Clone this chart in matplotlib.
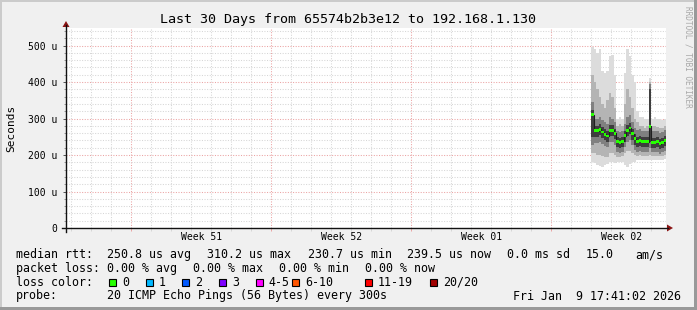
import numpy as np
import matplotlib
matplotlib.use("Agg")
import matplotlib.pyplot as plt
import matplotlib.dates as mdates
import matplotlib.transforms as mtransforms
from matplotlib.patches import Rectangle, Polygon
from matplotlib.lines import Line2D
from datetime import datetime, timedelta

W, H = 697, 310
MONO = ["DejaVu Sans Mono"]

# ---------------- data ----------------
title = "Last 30 Days from 65574b2b3e12 to 192.168.1.130"
window_end = datetime(2026, 1, 9, 17, 41, 2)
window_days = 30
data_start = datetime(2026, 1, 6, 0, 0)
step_hours = 3

median_us = [310, 266, 266, 270, 263, 257, 252, 268, 268, 259,
             236, 234, 238, 253, 268, 274, 258, 244, 238, 241,
             236, 236, 237, 279, 235, 235, 236, 231, 235, 239.5]
smoke_max = [495, 490, 480, 490, 430, 425, 430, 470, 475, 420,
             300, 305, 300, 425, 490, 470, 420, 400, 320, 305,
             305, 300, 300, 410, 300, 305, 300, 300, 295, 300]
smoke_p90 = [420, 400, 380, 360, 340, 330, 350, 370, 360, 330,
             280, 285, 280, 340, 380, 360, 330, 300, 290, 280,
             280, 275, 280, 400, 280, 280, 278, 275, 275, 280]
smoke_p75 = [345, 300, 300, 305, 295, 290, 285, 305, 300, 290,
             265, 262, 265, 285, 305, 310, 290, 275, 268, 270,
             265, 265, 265, 395, 265, 265, 265, 260, 262, 268]
smoke_p60 = [322, 280, 280, 284, 277, 270, 266, 282, 282, 272,
             248, 246, 250, 266, 282, 288, 272, 257, 250, 253,
             248, 248, 249, 380, 247, 247, 248, 243, 247, 251]
smoke_p40 = [250, 250, 250, 254, 247, 241, 236, 252, 252, 243,
             221, 219, 223, 237, 252, 258, 242, 228, 223, 226,
             221, 221, 222, 236, 220, 220, 221, 216, 220, 224]
smoke_p25 = [228, 232, 232, 236, 230, 225, 222, 236, 236, 228,
             208, 206, 209, 222, 236, 240, 228, 214, 209, 212,
             208, 208, 209, 220, 207, 207, 208, 204, 207, 211]
smoke_p10 = [205, 205, 200, 200, 198, 195, 195, 205, 205, 200,
             195, 195, 198, 205, 210, 210, 205, 200, 198, 200,
             198, 198, 198, 200, 198, 198, 198, 196, 198, 200]
smoke_min = [180, 178, 172, 170, 168, 172, 175, 180, 180, 178,
             182, 182, 180, 172, 168, 175, 180, 182, 185, 185,
             185, 185, 185, 185, 186, 186, 185, 186, 187, 188]

y_ticks_us = [0, 100, 200, 300, 400, 500]
y_tick_labels = ["0", "100 u", "200 u", "300 u", "400 u", "500 u"]
y_max_us = 548

week_labels = ["Week 51", "Week 52", "Week 01", "Week 02"]
week_label_dates = [datetime(2025, 12, 17, 12), datetime(2025, 12, 24, 12),
                    datetime(2025, 12, 31, 12), datetime(2026, 1, 7, 12)]

rtt_line = [("median rtt:", 16), ("250.8 us avg", 107), ("310.2 us max", 207),
            ("230.7 us min", 308), ("239.5 us now", 407), ("0.0 ms sd", 507),
            ("15.0", 585.5), ("am/s", 635)]
loss_line = [("packet loss:", 16), ("0.00 % avg", 107), ("0.00 % max", 193),
             ("0.00 % min", 279), ("0.00 % now", 365)]
loss_labels = ["0", "1", "2", "3", "4-5", "6-10", "11-19", "20/20"]
loss_colors = ["#26ff00", "#00b8ff", "#0059ff", "#7e00ff",
               "#ff00ff", "#ff5500", "#ff0000", "#a10000"]
loss_box_x = [109, 145.7, 182.3, 219, 255.7, 292.3, 365, 430]
probe_text = "20 ICMP Echo Pings (56 Bytes) every 300s"
stamp_text = "Fri Jan  9 17:41:02 2026"
watermark = "RRDTOOL / TOBI OETIKER"

# ---------------- figure ----------------
def fx(x):
    return x / W

def fy(y):
    return 1 - y / H

fig = plt.figure(figsize=(W / 100, H / 100), dpi=100, facecolor="#f0f0f0")

# 3D frame
fig.add_artist(Rectangle((0, fy(2)), 1, 2 / H, transform=fig.transFigure,
                         facecolor="#cbcbcb", edgecolor="none"))
fig.add_artist(Rectangle((0, 0), 2 / W, 1, transform=fig.transFigure,
                         facecolor="#cbcbcb", edgecolor="none"))
fig.add_artist(Rectangle((0, 0), 1, 3 / H, transform=fig.transFigure,
                         facecolor="#999999", edgecolor="none"))
fig.add_artist(Rectangle((fx(W - 3), 0), 3 / W, 1, transform=fig.transFigure,
                         facecolor="#999999", edgecolor="none"))

ax = fig.add_axes([fx(66), fy(228), 600 / W, 200 / H])
ax.set_facecolor("white")
for s in ax.spines.values():
    s.set_visible(False)

t_end = mdates.date2num(window_end)
t_start = mdates.date2num(window_end - timedelta(days=window_days))
n = len(median_us)
edges = [data_start + timedelta(hours=step_hours * i) for i in range(n + 1)]
xe = mdates.date2num(edges)

def ext(a):
    a = np.asarray(a, dtype=float)
    return np.append(a, a[-1])

bands = [(smoke_min, smoke_max, "#dcdcdc"),
         (smoke_p10, smoke_p90, "#b4b4b4"),
         (smoke_p25, smoke_p75, "#808080"),
         (smoke_p40, smoke_p60, "#3e3e3e")]
for lo, hi, c in bands:
    ax.fill_between(xe, ext(lo), ext(hi), step="post", color=c, lw=0, zorder=3)

ax.step(xe, ext(median_us), where="post", color="#202020", lw=0.8, zorder=4)
half = 4.0
ax.bar(xe[:-1], [2 * half] * n, bottom=np.asarray(median_us) - half,
       width=np.diff(xe), align="edge", color=loss_colors[0], lw=0, zorder=5)

ax.set_xlim(t_start, t_end)
ax.set_ylim(0, y_max_us)

# grid
ax.xaxis.set_minor_locator(mdates.DayLocator())
ax.xaxis.set_major_locator(mdates.WeekdayLocator(byweekday=mdates.SU))
ax.set_yticks(y_ticks_us)
ax.set_yticks(np.arange(20, y_max_us, 20), minor=True)
ax.set_yticklabels(y_tick_labels, family=MONO, fontsize=7)
ax.set_xticklabels([])
ax.grid(which="minor", color="#d6d6d6", lw=0.75, ls=(0, (1, 1.5)), zorder=1)
ax.grid(which="major", color="#eba3a3", lw=0.75, ls=(0, (1, 1.5)), zorder=2)
ax.tick_params(axis="y", which="major", length=2.5, width=0.7, color="#555555", pad=4)
ax.tick_params(axis="y", which="minor", length=1.5, width=0.7, color="#999999")
ax.tick_params(axis="x", which="major", length=2.5, width=0.7, color="#eba3a3")
ax.tick_params(axis="x", which="minor", length=2, width=0.7, color="#d6d6d6")

label_tr = mtransforms.blended_transform_factory(ax.transData, fig.transFigure)
for lab, d in zip(week_labels, week_label_dates):
    ax.text(mdates.date2num(d), fy(237), lab, family=MONO, fontsize=7,
            ha="center", va="center", transform=label_tr, clip_on=False)

# axes lines and arrows
fig.add_artist(Line2D([fx(62), fx(668)], [fy(228), fy(228)], color="#111111",
                      lw=1.0, transform=fig.transFigure))
fig.add_artist(Line2D([fx(66), fx(66)], [fy(232), fy(25)], color="#111111",
                      lw=1.0, transform=fig.transFigure))
fig.add_artist(Polygon([[fx(667), fy(224.5)], [fx(667), fy(231.5)], [fx(673), fy(228)]],
                       closed=True, transform=fig.transFigure,
                       facecolor="#8b1414", edgecolor="none"))
fig.add_artist(Polygon([[fx(62.5), fy(27)], [fx(69.5), fy(27)], [fx(66), fy(21)]],
                       closed=True, transform=fig.transFigure,
                       facecolor="#8b1414", edgecolor="none"))

# titles
fig.text(fx(348), fy(19), title, family=MONO, fontsize=9.6, ha="center", va="center")
fig.text(fx(11), fy(128), "Seconds", family=MONO, fontsize=8, rotation=90,
         ha="center", va="center")
fig.text(fx(688), fy(6), watermark, family=MONO, fontsize=5.6, rotation=270,
         ha="center", va="top", color="#a8a8a8")

# legend
LF = 8.4
for txt, x in rtt_line:
    fig.text(fx(x), fy(254.5), txt, family=MONO, fontsize=LF, ha="left", va="center")
for txt, x in loss_line:
    fig.text(fx(x), fy(268.3), txt, family=MONO, fontsize=LF, ha="left", va="center")
fig.text(fx(16), fy(282.3), "loss color:", family=MONO, fontsize=LF, ha="left", va="center")
for lab, col, bx in zip(loss_labels, loss_colors, loss_box_x):
    fig.add_artist(Rectangle((fx(bx), fy(286)), 7 / W, 7 / H, transform=fig.transFigure,
                             facecolor=col, edgecolor="black", lw=0.8))
    fig.text(fx(bx + 13.0), fy(282.3), lab, family=MONO, fontsize=LF, ha="left", va="center")
fig.text(fx(16), fy(296), "probe:", family=MONO, fontsize=LF, ha="left", va="center")
fig.text(fx(107), fy(296), probe_text, family=MONO, fontsize=LF, ha="left", va="center")
fig.text(fx(681), fy(296), stamp_text, family=MONO, fontsize=LF, ha="right", va="center")

fig.savefig("out.png", dpi=100, facecolor=fig.get_facecolor())
